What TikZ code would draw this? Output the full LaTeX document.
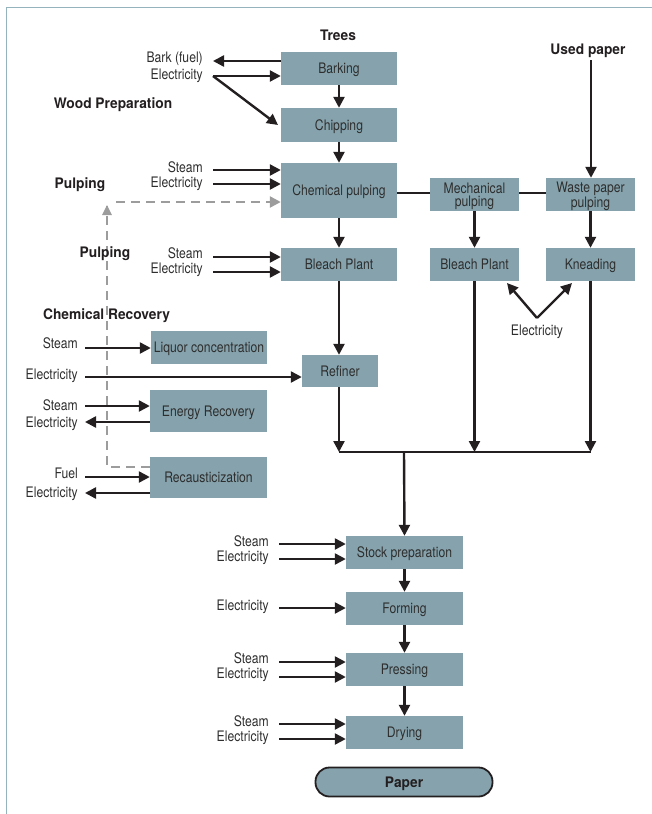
\documentclass[tikz,border=0pt]{standalone}
\usepackage{fontspec}
\setmainfont[FakeStretch=0.84, BoldFeatures={FakeStretch=0.95}]{TeX Gyre Heros}
\usetikzlibrary{arrows.meta}
\definecolor{boxc}{HTML}{86A3AD}
\definecolor{framec}{HTML}{94B3BD}
\definecolor{txt}{HTML}{2E2E2E}
\definecolor{ink}{HTML}{231F20}
\definecolor{dashc}{HTML}{9C9C9C}
\tikzset{
  pbox/.style={fill=boxc, text=txt, inner sep=0pt, align=center, text depth=0pt,
    font=\fontsize{14.5}{13.5}\selectfont},
  lbl/.style={text=txt, inner sep=0pt, text depth=0pt, font=\fontsize{14.5}{14}\selectfont},
  blbl/.style={text=ink, inner sep=0pt, text depth=0pt, font=\fontsize{14.5}{14}\selectfont\bfseries},
  arr/.style={draw=ink, line width=2.4pt, -{Triangle[length=11pt,width=11pt]}},
  ln/.style={draw=ink, line width=2.4pt},
  garr/.style={draw=dashc, line width=2.4pt, dash pattern=on 9pt off 6pt},
}
\begin{document}
\begin{tikzpicture}[x=1pt,y=-1pt]
\useasboundingbox (0,0) rectangle (652,814);
% frame
\draw[framec, line width=1.6pt] (6.5,814) -- (6.5,7.5) -- (652,7.5);

% boxes
\node[pbox, minimum width=116pt, minimum height=33pt] (bark) at (339,68.5) {Barking};
\node[pbox, minimum width=116pt, minimum height=34pt] (chip) at (339,125) {Chipping};
\node[pbox, minimum width=116pt, minimum height=55pt] (chem) at (339,190.5) {Chemical pulping};
\node[pbox, minimum width=89pt, minimum height=33pt] (mech) at (474.5,194.5) {Mechanical\\pulping};
\node[pbox, minimum width=89pt, minimum height=33pt] (waste) at (590.5,194.5) {Waste paper\\pulping};
\node[pbox, minimum width=116pt, minimum height=33pt] (bleachL) at (339,264.5) {Bleach Plant};
\node[pbox, minimum width=89pt, minimum height=33pt] (bleachM) at (474.5,264.5) {Bleach Plant};
\node[pbox, minimum width=89pt, minimum height=33pt] (knead) at (590.5,264.5) {Kneading};
\node[pbox, minimum width=116pt, minimum height=33pt] (liquor) at (209,347.5) {Liquor concentration};
\node[pbox, minimum width=76pt, minimum height=32pt] (refiner) at (340,371) {Refiner};
\node[pbox, minimum width=117pt, minimum height=42pt] (energy) at (208.5,411) {Energy Recovery};
\node[pbox, minimum width=117pt, minimum height=41pt] (recaust) at (208.5,477.5) {Recausticization};
\node[pbox, minimum width=117pt, minimum height=33pt] (stock) at (404.5,552.5) {Stock preparation};
\node[pbox, minimum width=117pt, minimum height=33pt] (form) at (404.5,608.5) {Forming};
\node[pbox, minimum width=117pt, minimum height=33pt] (press) at (404.5,669.5) {Pressing};
\node[pbox, minimum width=117pt, minimum height=33pt] (dry) at (404.5,732.5) {Drying};
\node[pbox, draw=ink, line width=1.8pt, rounded corners=14pt, minimum width=177pt,
  minimum height=29pt, font=\fontsize{14.5}{14}\selectfont\bfseries, text=ink] (paper) at (404,782) {Paper};

% bold labels
\node[blbl] (trees) at (338,35) {Trees};
\node[blbl] (used) at (588,49) {Used paper};
\node[blbl] (woodprep) at (113,103) {Wood Preparation};
\node[blbl] (pulp1) at (80,183) {Pulping};
\node[blbl] (chemrec) at (106.5,314) {Chemical Recovery};

% dashed gray recycle path
\coordinate (dcorner) at (107,467);
\coordinate (dtop) at (107,206);
\coordinate (dstart) at (116,202);
\draw[garr] (recaust.west |- dcorner) -- (dcorner) -- (dtop);
\fill[dashc] (dtop) ++(0,-1) -- ++(-5,10) -- ++(10,0) -- cycle;
\draw[garr, -{Triangle[length=11pt,width=11pt]}] (dstart) -- (chem.west |- dstart);
\node[blbl] (pulp2) at (105,252) {Pulping};

% side labels (top)
\node[lbl, anchor=east] (barkfuel) at (203,57) {Bark (fuel)};
\node[lbl, anchor=east] (elec1) at (203,74) {Electricity};
\node[lbl, anchor=east] (steam2) at (203,167) {Steam};
\node[lbl, anchor=east] (elec2) at (203,182) {Electricity};
\node[lbl, anchor=east] (steam3) at (203,253) {Steam};
\node[lbl, anchor=east] (elec3) at (203,268) {Electricity};
% chemical recovery labels
\node[lbl, anchor=east] (steam4) at (78,343) {Steam};
\node[lbl, anchor=east] (elec4) at (78,374) {Electricity};
\node[lbl, anchor=east] (steam5) at (78,405) {Steam};
\node[lbl, anchor=east] (elec5) at (78,422) {Electricity};
\node[lbl, anchor=east] (fuel6) at (78,473) {Fuel};
\node[lbl, anchor=east] (elec6) at (78,492) {Electricity};
% bottom labels
\node[lbl, anchor=east] (steam7) at (269,541) {Steam};
\node[lbl, anchor=east] (elec7) at (269,556) {Electricity};
\node[lbl, anchor=east] (elec8) at (269,605) {Electricity};
\node[lbl, anchor=east] (steam9) at (269,658) {Steam};
\node[lbl, anchor=east] (elec9) at (269,673) {Electricity};
\node[lbl, anchor=east] (steam10) at (269,721) {Steam};
\node[lbl, anchor=east] (elec10) at (269,736) {Electricity};
\node[lbl] (elecK) at (537,330) {Electricity};

% free-end coordinates
\coordinate (c1a) at (213,61);
\coordinate (c1b) at (213,76);
\coordinate (c1c) at (278,125);
\coordinate (c2a) at (213,170);
\coordinate (c2b) at (213,184);
\coordinate (c3a) at (213,257);
\coordinate (c3b) at (213,272);
\coordinate (c4) at (85,348);
\coordinate (c5) at (85,377);
\coordinate (c6a) at (85,406);
\coordinate (c6b) at (85,422);
\coordinate (c7a) at (85,477);
\coordinate (c7b) at (85,493);
\coordinate (c8a) at (279,544);
\coordinate (c8b) at (279,559);
\coordinate (c9) at (279,608);
\coordinate (c10a) at (279,662);
\coordinate (c10b) at (279,677);
\coordinate (c11a) at (279,724);
\coordinate (c11b) at (279,739);
\coordinate (usedtop) at (591,60);
\coordinate (merge) at (404,452);
\coordinate (eK) at (537,318);
\coordinate (eKl) at (507,283);
\coordinate (eKr) at (572,283);

% top side arrows
\draw[arr] (bark.west |- c1a) -- (c1a);
\draw[arr] (c1b) -- (bark.west |- c1b);
\draw[arr] (c1b) -- (c1c);
\draw[arr] (c2a) -- (chem.west |- c2a);
\draw[arr] (c2b) -- (chem.west |- c2b);
\draw[arr] (c3a) -- (bleachL.west |- c3a);
\draw[arr] (c3b) -- (bleachL.west |- c3b);

% main chain
\draw[arr] (bark) -- (chip);
\draw[arr] (chip) -- (chem);
\draw[arr] (chem) -- (bleachL);
\draw[arr] (bleachL.south) -- (bleachL.south |- refiner.north);
\draw[ln] (chem.east |- 0,193) -- (mech.west |- 0,193);
\draw[ln] (mech.east |- 0,193) -- (waste.west |- 0,193);
\draw[arr] (usedtop) -- (waste.north -| usedtop);
\draw[arr] (mech) -- (bleachM);
\draw[arr] (waste) -- (knead);
\draw[arr] (eK) -- (eKl);
\draw[arr] (eK) -- (eKr);

% merge
\draw[arr] (bleachL.south |- refiner.south) -- (bleachL.south |- merge);
\draw[arr] (bleachM.south) -- (bleachM.south |- merge);
\draw[arr] (knead.south) -- (knead.south |- merge);
\draw[ln] (bleachL.south |- merge) -- (knead.south |- merge);
\draw[arr] (merge) -- (stock.north);

% chemical recovery arrows
\draw[arr] (c4) -- (liquor.west |- c4);
\draw[arr] (c5) -- (refiner.west |- c5);
\draw[arr] (c6a) -- (energy.west |- c6a);
\draw[arr] (energy.west |- c6b) -- (c6b);
\draw[arr] (c7a) -- (recaust.west |- c7a);
\draw[arr] (recaust.west |- c7b) -- (c7b);

% bottom chain
\draw[arr] (stock) -- (form);
\draw[arr] (form) -- (press);
\draw[arr] (press) -- (dry);
\draw[arr] (c8a) -- (stock.west |- c8a);
\draw[arr] (c8b) -- (stock.west |- c8b);
\draw[arr] (c9) -- (form.west |- c9);
\draw[arr] (c10a) -- (press.west |- c10a);
\draw[arr] (c10b) -- (press.west |- c10b);
\draw[arr] (c11a) -- (dry.west |- c11a);
\draw[arr] (c11b) -- (dry.west |- c11b);
\end{tikzpicture}
\end{document}
